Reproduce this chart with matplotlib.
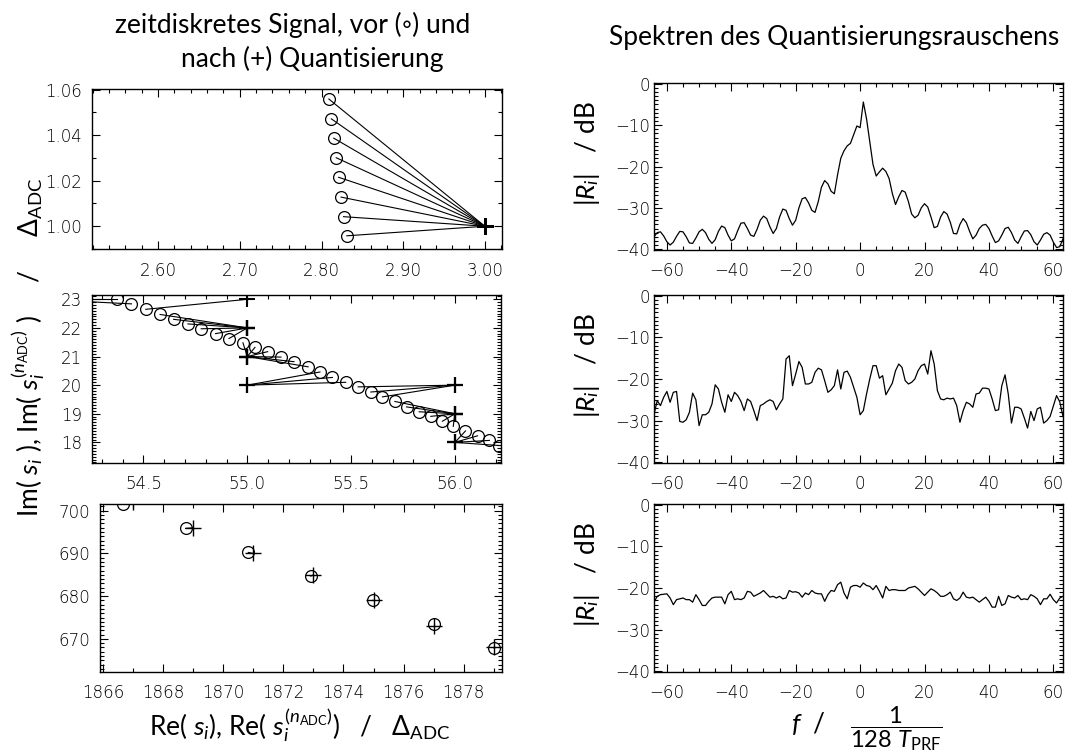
import numpy as np
import matplotlib
matplotlib.use('Agg')
import matplotlib.pyplot as plt
from matplotlib.ticker import MultipleLocator, FormatStrFormatter

plt.rcParams['font.family'] = ['DejaVu Sans']
plt.rcParams['font.weight'] = 'light'
plt.rcParams['mathtext.fontset'] = 'custom'
plt.rcParams['mathtext.rm'] = 'Lato:weight=normal'
plt.rcParams['mathtext.it'] = 'Lato:style=italic:weight=normal'
plt.rcParams['mathtext.bf'] = 'Lato:bold'

# ---- left column: samples before (o) and after (+) quantisation
# top panel (values near 3 + 1j)
re_top = [2.809, 2.812, 2.815, 2.818, 2.821, 2.824, 2.827, 2.831]
im_top = [1.0559, 1.0472, 1.0387, 1.0301, 1.0215, 1.0128, 1.0042, 0.9958]
re_top_q = [3, 3, 3, 3, 3, 3, 3, 3]
im_top_q = [1, 1, 1, 1, 1, 1, 1, 1]

# middle panel
re_mid = [54.373, 54.442, 54.511, 54.580, 54.645, 54.714, 54.778, 54.847,
          54.912, 54.979, 55.037, 55.098, 55.162, 55.225, 55.293, 55.350,
          55.410, 55.474, 55.534, 55.595, 55.651, 55.711, 55.767, 55.828,
          55.884, 55.940, 55.992, 56.051, 56.109, 56.166, 56.214]
im_mid = [23.00, 22.84, 22.65, 22.47, 22.30, 22.14, 21.97, 21.80,
          21.63, 21.48, 21.32, 21.17, 20.98, 20.82, 20.64, 20.46,
          20.27, 20.10, 19.94, 19.76, 19.59, 19.43, 19.24, 19.07,
          18.91, 18.74, 18.56, 18.40, 18.23, 18.07, 17.89]
re_mid_q = [54, 54, 55, 55, 55, 55, 55, 55, 55, 55, 55, 55, 55, 55, 55, 55,
            55, 55, 56, 56, 56, 56, 56, 56, 56, 56, 56, 56, 56, 56, 56]
im_mid_q = [23, 23, 23, 22, 22, 22, 22, 22, 22, 21, 21, 21, 21, 21, 21, 20,
            20, 20, 20, 20, 20, 19, 19, 19, 19, 19, 19, 18, 18, 18, 18]

# bottom panel
re_bot = [1866.65, 1868.74, 1870.83, 1872.91, 1874.98, 1877.00, 1879.03]
im_bot = [701.6, 695.86, 690.23, 684.69, 679.06, 673.40, 667.80]
re_bot_q = [1867, 1869, 1871, 1873, 1875, 1877, 1879]
im_bot_q = [702, 696, 690, 685, 679, 673, 668]

# ---- right column: spectra of the quantisation noise (dB), f = -64..63
freq = np.arange(-64, 64)
spec_top = [-37.0, -36.0, -35.8, -36.8, -38.2, -39.0, -38.3, -36.9, -35.7, -35.8,
            -37.0, -38.5, -38.6, -37.3, -35.8, -35.2, -36.0, -37.6, -38.6, -37.7,
            -35.7, -34.4, -34.8, -36.6, -38.0, -37.5, -35.5, -33.7, -33.6, -35.0,
            -36.6, -36.9, -35.2, -33.0, -32.0, -32.6, -34.6, -36.2, -35.0, -32.2,
            -30.3, -30.6, -32.6, -34.2, -33.0, -30.0, -27.8, -27.5, -28.8, -30.6,
            -31.1, -28.5, -25.0, -23.4, -24.2, -26.0, -26.6, -22.0, -18.0, -16.2,
            -15.0, -14.4, -12.3, -10.2, -10.6, -4.4, -8.5, -14.0, -19.5, -22.3,
            -21.3, -20.4, -21.2, -22.9, -26.5, -29.2, -27.3, -25.8, -26.2, -28.5,
            -31.5, -32.4, -31.8, -30.0, -29.0, -29.8, -32.2, -34.8, -34.5, -32.2,
            -30.9, -31.5, -33.5, -36.2, -36.3, -34.0, -32.6, -33.6, -35.7, -37.5,
            -36.6, -35.0, -34.2, -34.0, -35.0, -36.8, -38.4, -38.0, -36.6, -35.0,
            -34.7, -36.0, -37.8, -38.6, -37.0, -35.6, -35.5, -36.5, -38.2, -39.0,
            -37.8, -36.4, -36.0, -36.6, -38.3, -39.6, -39.4, -37.5]
spec_mid = [-28.5, -25.2, -26.4, -24.4, -23.0, -25.6, -23.2, -23.0, -30.2, -30.4,
            -29.8, -28.0, -23.4, -25.0, -31.2, -28.6, -28.6, -28.0, -26.0, -21.4,
            -22.4, -25.6, -28.0, -23.8, -25.4, -23.2, -24.0, -25.4, -27.6, -24.8,
            -25.4, -27.6, -30.0, -26.4, -26.0, -25.4, -25.0, -25.4, -27.4, -26.0,
            -24.8, -15.2, -14.4, -21.6, -18.8, -15.8, -17.2, -21.2, -21.2, -20.8,
            -18.4, -17.4, -17.8, -20.4, -23.2, -22.6, -21.6, -17.8, -22.4, -18.4,
            -18.1, -19.6, -22.0, -24.4, -28.6, -27.6, -23.6, -20.0, -16.8, -16.8,
            -19.8, -19.2, -23.8, -22.4, -21.0, -18.0, -16.4, -17.2, -20.4, -21.2,
            -20.8, -20.0, -18.0, -16.8, -16.4, -18.8, -13.2, -16.4, -22.8, -24.8,
            -25.0, -24.6, -24.8, -24.6, -26.4, -30.4, -27.6, -25.6, -26.0, -26.8,
            -23.6, -23.4, -22.2, -22.2, -22.4, -24.8, -27.6, -27.4, -21.6, -19.0,
            -23.6, -30.6, -26.8, -26.8, -27.2, -29.4, -31.8, -27.8, -30.0, -27.2,
            -26.8, -30.6, -30.0, -29.0, -26.5, -24.0, -25.5, -29.0]
spec_flat = [-23.4, -22.0, -21.6, -21.5, -21.4, -22.4, -24.0, -22.8, -22.6, -22.4,
             -22.8, -22.8, -23.4, -21.6, -22.8, -24.2, -24.2, -23.2, -22.4, -22.2,
             -22.2, -22.2, -23.8, -21.6, -20.8, -22.8, -22.6, -22.8, -22.4, -20.8,
             -21.0, -22.0, -21.6, -21.2, -20.6, -21.4, -22.2, -22.0, -22.4, -22.0,
             -22.6, -22.4, -20.6, -21.0, -20.9, -21.2, -22.2, -21.2, -21.6, -20.6,
             -21.2, -21.4, -21.4, -23.2, -21.6, -20.6, -20.8, -19.2, -18.6, -21.2,
             -22.6, -19.8, -19.4, -19.4, -19.8, -18.8, -19.4, -19.6, -20.4, -19.4,
             -20.8, -22.4, -19.6, -20.6, -20.4, -20.4, -20.6, -20.6, -20.6, -20.0,
             -19.8, -19.6, -20.2, -21.0, -21.8, -21.0, -20.2, -20.6, -21.2, -22.0,
             -22.0, -21.6, -21.0, -22.6, -23.0, -22.4, -21.0, -22.2, -22.4, -22.2,
             -22.8, -23.4, -22.8, -22.2, -23.2, -24.6, -24.6, -22.0, -24.2, -23.8,
             -21.8, -22.2, -22.4, -21.8, -22.8, -22.6, -22.8, -21.6, -22.0, -22.6,
             -24.0, -22.6, -22.6, -21.5, -22.8, -23.6, -22.4, -22.0]

W, H = 1091, 754
fig = plt.figure(figsize=(W / 100, H / 100), dpi=100)


def px_axes(x0, y0, x1, y1):
    # frame given in pixels from the top-left corner
    return fig.add_axes([x0 / W, 1 - y1 / H, (x1 - x0) / W, (y1 - y0) / H])


def style(ax, xmaj, xmin, ymaj, ymin, ypad):
    ax.xaxis.set_major_locator(MultipleLocator(xmaj))
    ax.xaxis.set_minor_locator(MultipleLocator(xmin))
    ax.yaxis.set_major_locator(MultipleLocator(ymaj))
    ax.yaxis.set_minor_locator(MultipleLocator(ymin))
    ax.tick_params(which='both', direction='in', top=True, right=True,
                   width=0.8, labelsize=12)
    ax.tick_params(which='major', length=6)
    ax.tick_params(which='minor', length=3)
    ax.tick_params(axis='x', pad=9)
    ax.tick_params(axis='y', pad=ypad)
    for s in ax.spines.values():
        s.set_linewidth(1.0)


def quant_panel(ax, re, im, re_q, im_q, mew):
    for x0, y0, x1, y1 in zip(re, im, re_q, im_q):
        ax.plot([x0, x1], [y0, y1], color='k', lw=0.8)
    ax.plot(re, im, 'o', mfc='none', mec='k', ms=8.5, mew=0.9)
    ax.plot(re_q, im_q, '+', color='k', ms=11, mew=mew)


# left column
ax1 = px_axes(92, 89, 502, 249)
quant_panel(ax1, re_top, im_top, re_top_q, im_top_q, 1.8)
ax1.set_xlim(2.519, 3.021)
ax1.set_ylim(0.990, 1.0603)
style(ax1, 0.1, 0.02, 0.02, 0.01, 7)
ax1.xaxis.set_major_formatter(FormatStrFormatter('%.2f'))
ax1.yaxis.set_major_formatter(FormatStrFormatter('%.2f'))

ax2 = px_axes(92, 295, 501, 463)
quant_panel(ax2, re_mid, im_mid, re_mid_q, im_mid_q, 1.5)
ax2.set_xlim(54.252, 56.222)
ax2.set_ylim(17.28, 23.15)
style(ax2, 0.5, 0.1, 1, 0.1, 7)
ax2.xaxis.set_major_formatter(FormatStrFormatter('%.1f'))
ax2.yaxis.set_major_formatter(FormatStrFormatter('%d'))

ax3 = px_axes(100, 504, 502, 672)
quant_panel(ax3, re_bot, im_bot, re_bot_q, im_bot_q, 1.0)
ax3.set_xlim(1865.89, 1879.28)
ax3.set_ylim(662.27, 701.56)
style(ax3, 2, 1, 10, 1, 7)
ax3.xaxis.set_major_formatter(FormatStrFormatter('%d'))
ax3.yaxis.set_major_formatter(FormatStrFormatter('%d'))

# right column
lab_font = dict(family=['Lato', 'DejaVu Sans'], fontsize=19, fontweight='normal')
right_frames = [(83, 250), (295, 463), (504, 672)]
for (y0, y1), spec in zip(right_frames, [spec_top, spec_mid, spec_flat]):
    ax = px_axes(654, y0, 1063, y1)
    ax.plot(freq, spec, color='k', lw=0.9)
    ax.set_xlim(-64, 63)
    ax.set_ylim(-40.2, 0.2)
    style(ax, 20, 5, 10, 1, 3)
    ax.text(-0.164, 0.58, r'$|R_i|$   / dB', transform=ax.transAxes,
            rotation=90, ha='center', va='center', **lab_font)

# titles and axis labels
fig.text(293 / W, 1 - 33 / H, 'zeitdiskretes Signal, vor (\u25e6) und',
         ha='center', va='baseline', **lab_font)
fig.text(312 / W, 1 - 67 / H, 'nach (+) Quantisierung',
         ha='center', va='baseline', **lab_font)
fig.text(834 / W, 1 - 45 / H, 'Spektren des Quantisierungsrauschens',
         ha='center', va='baseline', **lab_font)

fig.text(28 / W, 1 - 347 / H,
         r'Im( $s_i$ ), Im( $s_i^{(n_{\mathrm{ADC}})}$ )     /     $\Delta_{\mathrm{ADC}}$',
         rotation=90, ha='center', va='center', **lab_font)
fig.text(300 / W, 1 - 735 / H,
         r'Re( $s_i$), Re( $s_i^{(n_{\mathrm{ADC}})}$)   /   $\Delta_{\mathrm{ADC}}$',
         ha='center', va='baseline', **lab_font)
fig.text(826 / W, 1 - 732 / H, r'$f$  /',
         ha='right', va='baseline', **lab_font)
fig.text(896 / W, 1 - 729 / H, r'$\dfrac{1}{128\ T_{\mathrm{PRF}}}$',
         ha='center', va='center', fontsize=17, family=['Lato', 'DejaVu Sans'])

fig.savefig('out.png', dpi=100)
